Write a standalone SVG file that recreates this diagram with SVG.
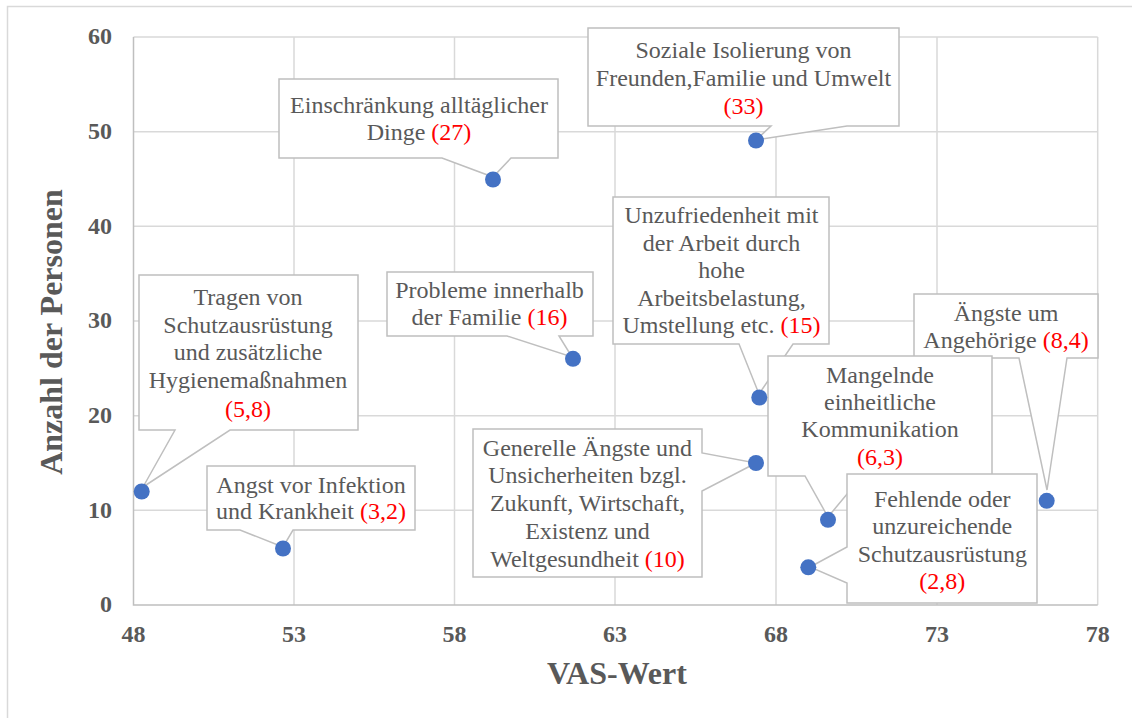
<svg xmlns="http://www.w3.org/2000/svg" width="1132" height="718" viewBox="0 0 1132 718">
<style>
.grid{stroke:#D9D9D9;stroke-width:1.5;fill:none}
.axis{stroke:#BFBFBF;stroke-width:1.5;fill:none}
.tick{font-family:"Liberation Serif","Times New Roman",serif;font-weight:bold;font-size:24px;fill:#595959}
.title{font-family:"Liberation Serif","Times New Roman",serif;font-weight:bold;font-size:32px;fill:#595959}
.call{fill:#FFFFFF;stroke:#BFBFBF;stroke-width:1.5}
.lbl{font-family:"Liberation Serif","Times New Roman",serif;font-size:24px;fill:#595959;text-anchor:middle}
.red{fill:#FF0000}
.dot{fill:#4472C4}
</style>
<rect x="7.5" y="6.5" width="1200" height="800" fill="#FFFFFF" stroke="#D9D9D9" stroke-width="1.5"/>
<g id="grid">
<path class="grid" d="M133.5,37 H1097.7 M133.5,131.7 H1097.7 M133.5,226.3 H1097.7 M133.5,321 H1097.7 M133.5,415.7 H1097.7 M133.5,510.3 H1097.7"/>
<path class="grid" d="M294,37 V605 M454.5,37 V605 M615,37 V605 M776,37 V605 M937,37 V605 M1097.7,37 V605"/>
<path class="axis" d="M133.5,37 V605 H1097.7"/>
</g>
<g id="yticks" class="tick" text-anchor="end">
<text x="112" y="44.3">60</text>
<text x="112" y="139">50</text>
<text x="112" y="233.6">40</text>
<text x="112" y="328.3">30</text>
<text x="112" y="423">20</text>
<text x="112" y="517.6">10</text>
<text x="112" y="612.3">0</text>
</g>
<g id="xticks" class="tick" text-anchor="middle">
<text x="133.5" y="642">48</text>
<text x="294" y="642">53</text>
<text x="454.5" y="642">58</text>
<text x="615" y="642">63</text>
<text x="776" y="642">68</text>
<text x="937" y="642">73</text>
<text x="1097.7" y="642">78</text>
</g>
<text id="xtitle" class="title" x="617" y="684" text-anchor="middle">VAS-Wert</text>
<text id="ytitle" class="title" x="62" y="332" text-anchor="middle" transform="rotate(-90 62 332)">Anzahl der Personen</text>
<g id="connectors">
</g>
<g id="n-tragen">
<path class="call" d="M139,275 H358 V430 H230 L143,487 L175,430 H139 Z"/>
<text class="lbl"><tspan x="248" y="305">Tragen von</tspan><tspan x="248" y="332.7">Schutzausrüstung</tspan><tspan x="248" y="360">und zusätzliche</tspan><tspan x="248" y="388">Hygienemaßnahmen</tspan><tspan x="248" y="416.5" class="red">(5,8)</tspan></text>
</g>
<g id="n-angst">
<path class="call" d="M207,466 H415 V530 H293 L283,547 L240,530 H207 Z"/>
<text class="lbl"><tspan x="311" y="493">Angst vor Infektion</tspan><tspan x="311" y="519">und Krankheit <tspan class="red">(3,2)</tspan></tspan></text>
</g>
<g id="n-einschraenkung">
<path class="call" d="M279,79 H558 V158 H511 L493,177 L442,158 H279 Z"/>
<text class="lbl"><tspan x="419" y="112.7">Einschränkung alltäglicher</tspan><tspan x="419" y="140">Dinge <tspan class="red">(27)</tspan></tspan></text>
</g>
<g id="n-soziale">
<path class="call" d="M588,28 H899 V126 H847 L756,140 L771,126 H588 Z"/>
<text class="lbl"><tspan x="743.5" y="58.3">Soziale Isolierung von</tspan><tspan x="743.5" y="86">Freunden,Familie und Umwelt</tspan><tspan x="743.5" y="113.5" class="red">(33)</tspan></text>
</g>
<g id="n-probleme">
<path class="call" d="M387,272 H593 V336 H559 L572,357 L507,336 H387 Z"/>
<text class="lbl"><tspan x="489.5" y="297.7">Probleme innerhalb</tspan><tspan x="489.5" y="325">der Familie <tspan class="red">(16)</tspan></tspan></text>
</g>
<g id="n-unzufriedenheit">
<path class="call" d="M613,197 H829 V344 H793 L759,394 L739,344 H613 Z"/>
<text class="lbl"><tspan x="721.5" y="223.3">Unzufriedenheit mit</tspan><tspan x="721.5" y="251">der Arbeit durch</tspan><tspan x="721.5" y="278.3">hohe</tspan><tspan x="721.5" y="306">Arbeitsbelastung,</tspan><tspan x="721.5" y="333.3">Umstellung etc. <tspan class="red">(15)</tspan></tspan></text>
</g>
<g id="n-angehoerige">
<path class="call" d="M914,294 H1098 V358 H1067 L1047,490 L1019,358 H914 Z"/>
<text class="lbl"><tspan x="1006" y="320.7">Ängste um</tspan><tspan x="1006" y="348.3">Angehörige <tspan class="red">(8,4)</tspan></tspan></text>
</g>
<g id="n-generelle">
<path class="call" d="M473,429 H702 V453 L756,463 L702,491 V577 H473 Z"/>
<text class="lbl"><tspan x="587.5" y="456">Generelle Ängste und</tspan><tspan x="587.5" y="483.3">Unsicherheiten bzgl.</tspan><tspan x="587.5" y="511">Zukunft, Wirtschaft,</tspan><tspan x="587.5" y="539">Existenz und</tspan><tspan x="587.5" y="566.7">Weltgesundheit <tspan class="red">(10)</tspan></tspan></text>
</g>
<g id="n-mangelnde">
<path class="call" d="M768,356 H992 V476 H862 L828,517 L805,476 H768 Z"/>
<text class="lbl"><tspan x="880" y="382.7">Mangelnde</tspan><tspan x="880" y="410">einheitliche</tspan><tspan x="880" y="437.3">Kommunikation</tspan><tspan x="880" y="465" class="red">(6,3)</tspan></text>
</g>
<g id="n-fehlende">
<path class="call" d="M847,474 H1037 V603 H847 V583 L810,567 L847,547 Z"/>
<text class="lbl"><tspan x="942.3" y="506.7">Fehlende oder</tspan><tspan x="942.3" y="534">unzureichende</tspan><tspan x="942.3" y="561.7">Schutzausrüstung</tspan><tspan x="942.3" y="589.3" class="red">(2,8)</tspan></text>
</g>
<g id="points">
<circle class="dot" cx="141.7" cy="491.5" r="8"/>
<circle class="dot" cx="283" cy="548.5" r="8"/>
<circle class="dot" cx="493" cy="179.5" r="8"/>
<circle class="dot" cx="756" cy="140.5" r="8"/>
<circle class="dot" cx="573" cy="358.8" r="8"/>
<circle class="dot" cx="759.3" cy="397.5" r="8"/>
<circle class="dot" cx="1046.7" cy="500.8" r="8"/>
<circle class="dot" cx="828" cy="519.8" r="8"/>
<circle class="dot" cx="808.3" cy="567.3" r="8"/>
<circle class="dot" cx="756" cy="463" r="8"/>
</g>
</svg>
